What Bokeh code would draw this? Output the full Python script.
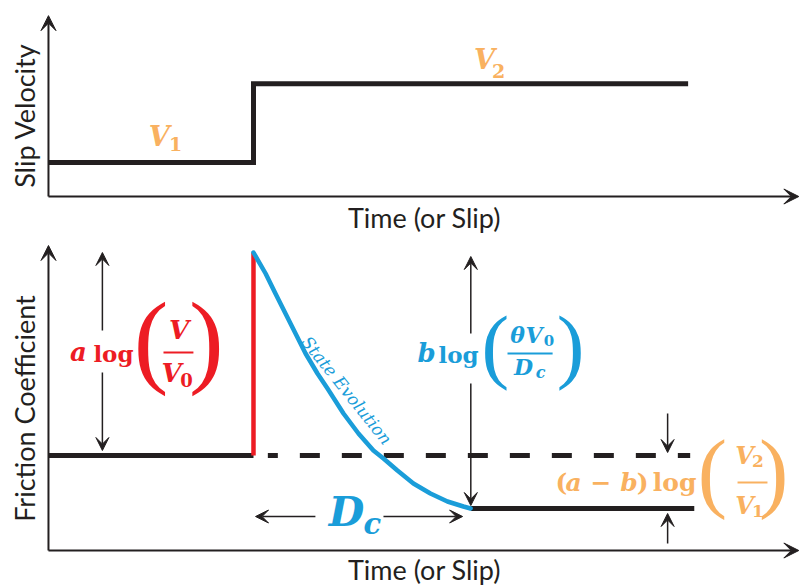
from bokeh.plotting import figure
from bokeh.layouts import column
from bokeh.models import Range1d, Arrow, VeeHead, Label
from bokeh.embed import file_html
from bokeh.resources import INLINE

# ---------------- data ----------------
# top panel: imposed slip velocity step (arbitrary units)
vel_time = [0.0, 1.0, 1.0, 3.12]
vel_value = [1.0, 1.0, 3.32, 3.32]
V1, V2 = 1.0, 3.32

# bottom panel: friction response (arbitrary units)
fric_before_t = [0.0, 1.0]
fric_before_mu = [0.95, 0.95]
direct_t = [1.0, 1.0]
direct_mu = [0.95, 2.98]
evol_t = [1.000, 1.059, 1.107, 1.156, 1.205, 1.254, 1.312, 1.361, 1.439, 1.512,
          1.585, 1.634, 1.702, 1.780, 1.863, 1.946, 2.024, 2.059]
evol_mu = [2.98, 2.77, 2.57, 2.37, 2.17, 1.97, 1.77, 1.62, 1.37, 1.17,
           1.00, 0.92, 0.80, 0.67, 0.57, 0.49, 0.44, 0.42]
after_t = [2.06, 3.15]
after_mu = [0.42, 0.42]
ref_t = [1.07, 3.13]
ref_mu = [0.95, 0.95]

x_label = "Time (or Slip)"
y_label_top = "Slip Velocity"
y_label_bot = "Friction Coefficient"

# ---------------- style ----------------
BLACK = "#231f20"
RED = "#ed1c24"
BLUE = "#1a9dd9"
ORANGE = "#f9b160"
AX_FONT = "Lato"
MATH = "DejaVu Serif"
PAREN = "Liberation Serif"

XR = (-0.234, 3.673)


def make_fig(h, yr, ppu):
    p = figure(width=801, height=h, x_range=Range1d(*XR), y_range=Range1d(*yr),
               output_backend="svg", toolbar_location=None, min_border=0,
               x_axis_type=None, y_axis_type=None)
    p.grid.visible = False
    p.outline_line_color = None
    p.background_fill_color = "white"
    p.tags = [ppu]
    return p


def put(p, x, y, s, size, color, style="normal", font=MATH, align="center",
        baseline="alphabetic", angle=0.0):
    if baseline == "alphabetic":
        # compensate the renderer's baseline placement (about 0.4 em low)
        y = y + 0.4 * size / p.tags[0]
    p.add_layout(Label(x=x, y=y, text=s, text_font=font, text_font_size=f"{size}px",
                       text_font_style=style, text_color=color, text_align=align,
                       text_baseline=baseline, angle=angle))


def arrow(p, x0, y0, x1, y1, size=13, width=1.5, color=BLACK):
    p.add_layout(Arrow(start=None, end=VeeHead(size=size, fill_color=color, line_color=color),
                       x_start=x0, y_start=y0, x_end=x1, y_end=y1,
                       line_width=width, line_color=color))


# ---------------- top panel ----------------
top = make_fig(240, (-1.294, 5.765), 34.0)
arrow(top, 0, 0, 0, 5.32, size=15, width=2)
arrow(top, 0, 0, 3.66, 0, size=15, width=2)
top.line(vel_time, vel_value, line_color=BLACK, line_width=5, line_join="miter")
put(top, -0.117, 2.38, y_label_top, 27, BLACK, font=AX_FONT, baseline="middle", angle=1.5708)
put(top, 1.834, -0.62, x_label, 27, BLACK, font=AX_FONT, baseline="middle")
put(top, 0.54, V1 + 0.44, "V", 27, ORANGE, style="bold italic")
put(top, 0.62, V1 + 0.32, "1", 19, ORANGE, style="bold")
put(top, 2.127, V2 + 0.39, "V", 27, ORANGE, style="bold italic")
put(top, 2.195, V2 + 0.15, "2", 19, ORANGE, style="bold")

# ---------------- bottom panel ----------------
bot = make_fig(346, (-0.36, 3.10), 100.0)
arrow(bot, 0, 0, 0, 3.05, size=15, width=2)
arrow(bot, 0, 0, 3.66, 0, size=15, width=2)
bot.line(ref_t, ref_mu, line_color=BLACK, line_width=5, line_dash="20 22", line_dash_offset=10)
bot.line(fric_before_t, fric_before_mu, line_color=BLACK, line_width=5)
bot.line(after_t, after_mu, line_color=BLACK, line_width=5)
bot.line(direct_t, direct_mu, line_color=RED, line_width=4.5)
bot.line(evol_t, evol_mu, line_color=BLUE, line_width=4.5, line_cap="round", line_join="round")

put(bot, -0.117, 1.42, y_label_bot, 27, BLACK, font=AX_FONT, baseline="middle", angle=1.5708)
put(bot, 1.834, -0.19, x_label, 27, BLACK, font=AX_FONT, baseline="middle")

# a log (V/V0) -- direct effect
arrow(bot, 0.263, 2.20, 0.263, 2.98)
arrow(bot, 0.263, 1.78, 0.263, 1.00)
put(bot, 0.146, 1.88, "a", 26, RED, style="bold italic")
put(bot, 0.317, 1.88, "log", 23, RED, style="bold")
put(bot, 0.500, 1.70, "(", 104, RED, font=PAREN)
put(bot, 0.770, 1.70, ")", 104, RED, font=PAREN)
put(bot, 0.637, 2.10, "V", 26, RED, style="bold italic")
bot.segment(x0=[0.561], y0=[1.98], x1=[0.707], y1=[1.98], line_color=RED, line_width=2)
put(bot, 0.600, 1.67, "V", 26, RED, style="bold italic")
put(bot, 0.673, 1.63, "0", 18, RED, style="bold")

# b log (theta V0 / Dc) -- evolution effect
arrow(bot, 2.06, 2.17, 2.06, 2.94)
arrow(bot, 2.06, 1.67, 2.06, 0.45)
put(bot, 1.844, 1.87, "b", 26, BLUE, style="bold italic")
put(bot, 2.000, 1.87, "log", 23, BLUE, style="bold")
put(bot, 2.180, 1.72, "(", 83, BLUE, font=PAREN)
put(bot, 2.546, 1.72, ")", 83, BLUE, font=PAREN)
put(bot, 2.288, 2.07, "θ", 22, BLUE, style="bold italic")
put(bot, 2.368, 2.07, "V", 22, BLUE, style="bold italic")
put(bot, 2.441, 2.04, "0", 15, BLUE, style="bold")
bot.segment(x0=[2.239], y0=[1.97], x1=[2.459], y1=[1.97], line_color=BLUE, line_width=2)
put(bot, 2.317, 1.75, "D", 22, BLUE, style="bold italic")
put(bot, 2.40, 1.72, "c", 16, BLUE, style="bold italic")

# State evolution label
put(bot, 1.455, 1.60, "State Evolution", 17, BLUE, style="italic", baseline="middle", angle=-0.895)

# Dc arrows
arrow(bot, 1.302, 0.34, 1.01, 0.34)
arrow(bot, 1.634, 0.34, 2.02, 0.34)
put(bot, 1.454, 0.22, "D", 41, BLUE, style="bold italic")
put(bot, 1.580, 0.15, "c", 29, BLUE, style="bold italic")

# (a-b) log (V2/V1)
arrow(bot, 3.02, 1.37, 3.02, 0.98)
arrow(bot, 3.02, 0.07, 3.02, 0.37)
put(bot, 2.502, 0.58, "(", 25, ORANGE, style="bold")
put(bot, 2.698, 0.58, "a − b", 25, ORANGE, style="bold italic")
put(bot, 2.898, 0.58, ")", 25, ORANGE, style="bold")
put(bot, 3.054, 0.58, "log", 25, ORANGE, style="bold")
put(bot, 3.239, 0.44, "(", 88, ORANGE, font=PAREN)
put(bot, 3.537, 0.44, ")", 88, ORANGE, font=PAREN)
put(bot, 3.395, 0.85, "V", 24, ORANGE, style="bold italic")
put(bot, 3.460, 0.83, "2", 17, ORANGE, style="bold")
bot.segment(x0=[3.361], y0=[0.68], x1=[3.507], y1=[0.68], line_color=ORANGE, line_width=2)
put(bot, 3.395, 0.35, "V", 24, ORANGE, style="bold italic")
put(bot, 3.460, 0.33, "1", 17, ORANGE, style="bold")

layout = column(top, bot, spacing=0)
with open("out.html", "w") as f:
    f.write(file_html(layout, INLINE))
